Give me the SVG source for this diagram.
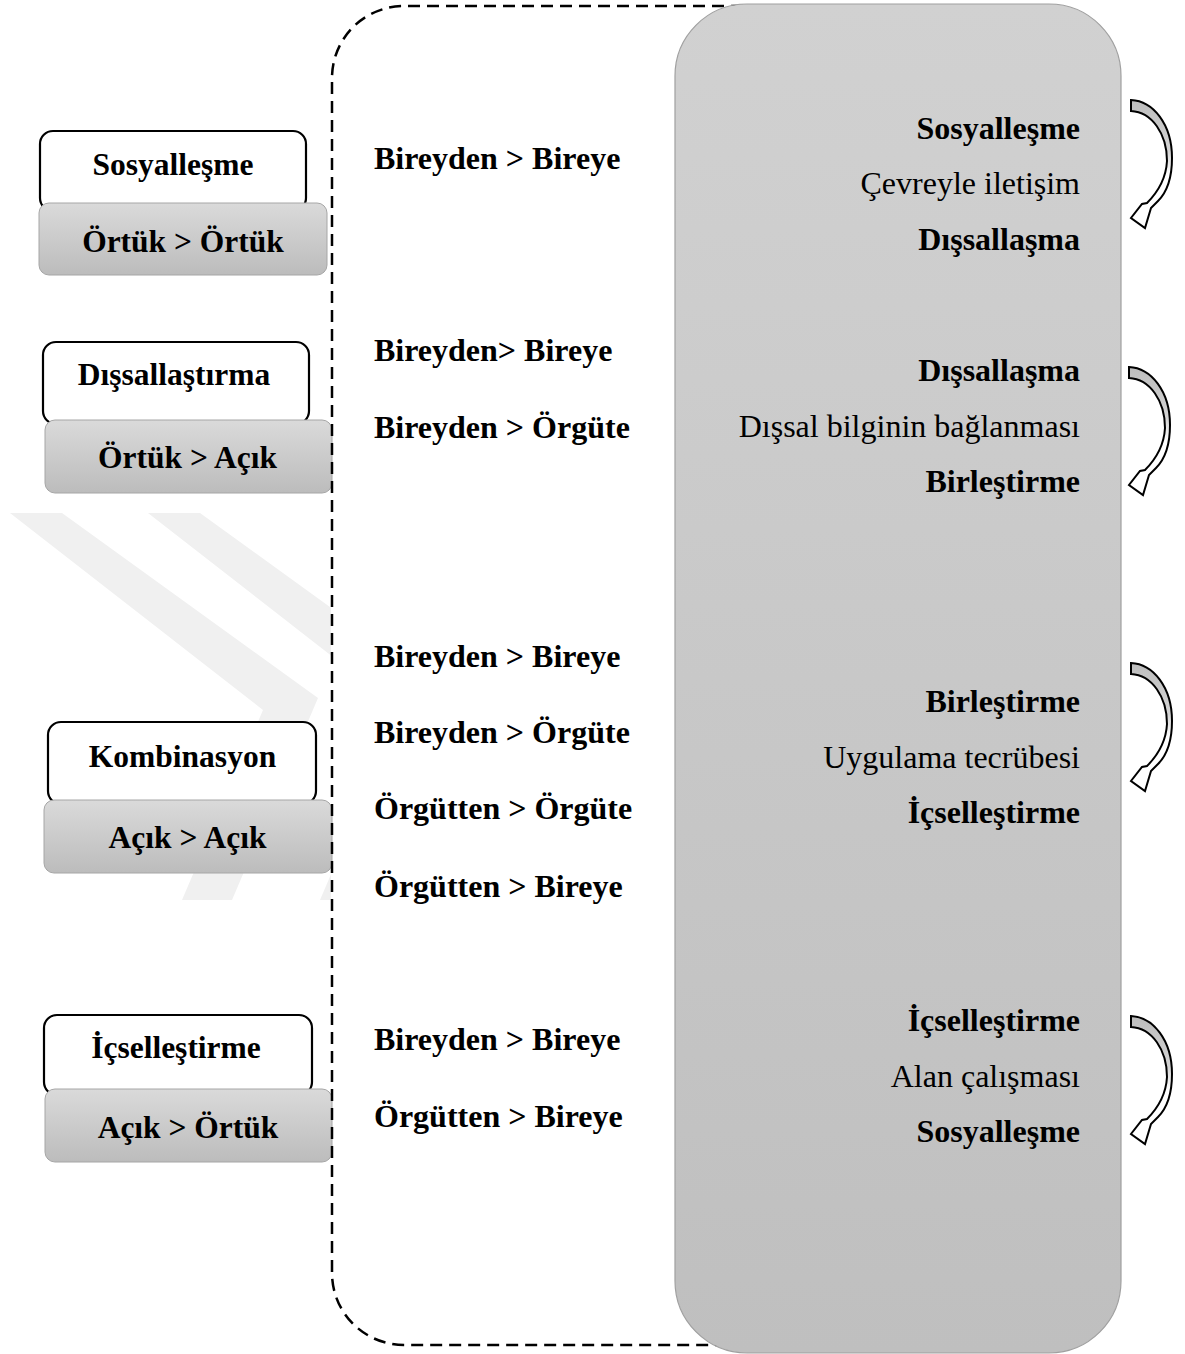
<svg xmlns="http://www.w3.org/2000/svg" width="1185" height="1354" viewBox="0 0 1185 1354">
<defs>
<style>
.t{font-family:"Liberation Serif","Times New Roman",serif;fill:#000;}
.b{font-weight:bold;font-size:32px;}
.r{font-weight:normal;font-size:32px;}
.lb{font-weight:bold;font-size:31.5px;text-anchor:middle;}
.e{text-anchor:end;}
.wbox{fill:#fff;stroke:#000;stroke-width:2.2;}
.gbox{fill:url(#gboxGrad);stroke:#a6a6a6;stroke-width:1;}
.arrow{fill:url(#arrGrad);stroke:#000;stroke-width:2;stroke-linejoin:miter;}
</style>
<linearGradient id="gboxGrad" x1="0" y1="0" x2="0" y2="1">
<stop offset="0" stop-color="#dadada"/>
<stop offset="1" stop-color="#bcbcbc"/>
</linearGradient>
<linearGradient id="panelGrad" x1="0" y1="0" x2="0" y2="1">
<stop offset="0" stop-color="#d1d1d1"/>
<stop offset="1" stop-color="#bfbfbf"/>
</linearGradient>
<linearGradient id="arrGrad" x1="0" y1="0" x2="0" y2="1">
<stop offset="0" stop-color="#bdbdbd"/>
<stop offset="0.4" stop-color="#d4d4d4"/>
<stop offset="0.58" stop-color="#ffffff"/>
<stop offset="1" stop-color="#ffffff"/>
</linearGradient>
<clipPath id="wmClip"><rect x="0" y="500" width="331" height="420"/></clipPath>
<path id="curvedArrow" d="M0,0 C22,1 41,24 41,58 C41,78 36,92 27,101 L20,108 L14,128 L0,118 L11,104 L16,103 C27,92 35,79 36,61 C36,34 21,12 0,11 Z"/>
</defs>

<rect width="1185" height="1354" fill="#fff"/>

<!-- watermark -->
<g id="watermark" clip-path="url(#wmClip)" fill="#f0f0f0">
<polygon points="10,513 62,513 318,698 232,900 182,900 263,710"/>
<polygon points="148,513 200,513 456,698 370,900 320,900 401,710"/>
</g>

<!-- left nodes -->
<g id="node-sosyallesme">
<rect class="wbox" x="40" y="131" width="266" height="80" rx="13"/>
<rect class="gbox" x="39" y="203" width="288" height="72" rx="10"/>
<text class="t lb" x="173" y="175">Sosyalleşme</text>
<text class="t lb" x="183" y="252">Örtük &gt; Örtük</text>
</g>
<g id="node-dissallastirma">
<rect class="wbox" x="43" y="342" width="266" height="82" rx="13"/>
<rect class="gbox" x="45" y="420" width="287" height="73" rx="10"/>
<text class="t lb" x="174" y="385">Dışsallaştırma</text>
<text class="t lb" x="187.5" y="468">Örtük &gt; Açık</text>
</g>
<g id="node-kombinasyon">
<rect class="wbox" x="48" y="722" width="268" height="82" rx="13"/>
<rect class="gbox" x="44" y="800" width="288" height="73" rx="10"/>
<text class="t lb" x="182.5" y="767">Kombinasyon</text>
<text class="t lb" x="187.5" y="848">Açık &gt; Açık</text>
</g>
<g id="node-icsellestirme">
<rect class="wbox" x="44" y="1015" width="268" height="80" rx="13"/>
<rect class="gbox" x="45" y="1089" width="287" height="73" rx="10"/>
<text class="t lb" x="176" y="1058">İçselleştirme</text>
<text class="t lb" x="188" y="1138">Açık &gt; Örtük</text>
</g>

<!-- dashed boundary -->
<g id="boundary">
<path d="M800,6 L404,6 A72,72 0 0 0 332,78 L332,1273 A72,72 0 0 0 404,1345 L800,1345" fill="none" stroke="#000" stroke-width="2.5" stroke-dasharray="12 7"/>
</g>

<!-- middle texts -->
<g id="node-flows">
<text class="t b" x="374" y="169">Bireyden &gt; Bireye</text>
<text class="t b" x="374" y="361">Bireyden&gt; Bireye</text>
<text class="t b" x="374" y="438">Bireyden &gt; Örgüte</text>
<text class="t b" x="374" y="667">Bireyden &gt; Bireye</text>
<text class="t b" x="374" y="743">Bireyden &gt; Örgüte</text>
<text class="t b" x="374" y="819">Örgütten &gt; Örgüte</text>
<text class="t b" x="374" y="897">Örgütten &gt; Bireye</text>
<text class="t b" x="374" y="1050">Bireyden &gt; Bireye</text>
<text class="t b" x="374" y="1127">Örgütten &gt; Bireye</text>
</g>

<!-- right panel -->
<g id="node-panel">
<rect x="675" y="4" width="446" height="1349" rx="72" ry="72" fill="url(#panelGrad)" stroke="#a0a0a0" stroke-width="1.2"/>
<text class="t b e" x="1080" y="139">Sosyalleşme</text>
<text class="t r e" x="1080" y="194">Çevreyle iletişim</text>
<text class="t b e" x="1080" y="250">Dışsallaşma</text>
<text class="t b e" x="1080" y="381">Dışsallaşma</text>
<text class="t r e" x="1080" y="437">Dışsal bilginin bağlanması</text>
<text class="t b e" x="1080" y="492">Birleştirme</text>
<text class="t b e" x="1080" y="712">Birleştirme</text>
<text class="t r e" x="1080" y="768">Uygulama tecrübesi</text>
<text class="t b e" x="1080" y="823">İçselleştirme</text>
<text class="t b e" x="1080" y="1031">İçselleştirme</text>
<text class="t r e" x="1080" y="1087">Alan çalışması</text>
<text class="t b e" x="1080" y="1142">Sosyalleşme</text>
</g>

<!-- curved arrows -->
<g id="connectors">
<use href="#curvedArrow" class="arrow" x="1131" y="100"/>
<use href="#curvedArrow" class="arrow" x="1129" y="367"/>
<use href="#curvedArrow" class="arrow" x="1131" y="663"/>
<use href="#curvedArrow" class="arrow" x="1131" y="1016"/>
</g>
</svg>
